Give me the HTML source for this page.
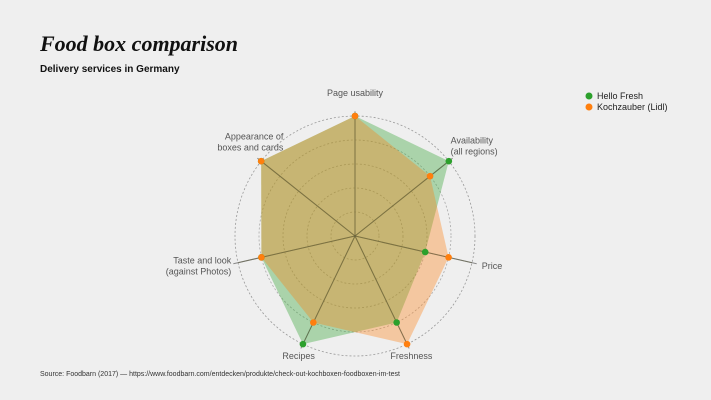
<!DOCTYPE html>
<html><head><meta charset="utf-8"><style>
body{margin:0;background:#efefef;font-family:"Liberation Sans",sans-serif;}
#wrap{position:relative;width:711px;height:400px;overflow:hidden;background:#efefef;}
.t{position:absolute;}
</style></head><body>
<div id="wrap">
<div class="t" style="left:40px;top:31px;font:italic bold 22px 'Liberation Serif',cursive;color:#111;">Food box comparison</div>
<div class="t" style="left:40px;top:64px;font:bold 10px 'Liberation Sans',sans-serif;color:#111;">Delivery services in Germany</div>
<div class="t" style="left:40px;top:371px;font:7px 'Liberation Sans',sans-serif;color:#333;">Source: Foodbarn (2017) — https://www.foodbarn.com/entdecken/produkte/check-out-kochboxen-foodboxen-im-test</div>
<svg id="svg" width="711" height="400" style="position:absolute;left:0;top:0"></svg>
</div>
<script>
const categories=["Page usability","Availability|(all regions)","Price","Freshness","Recipes","Taste and look|(against Photos)","Appearance of|boxes and cards"];
const helloFresh=[5,5,3,4,5,4,5];
const kochzauber=[5,4,4,5,4,4,5];
const seriesNames=["Hello Fresh","Kochzauber (Lidl)"];
const maxVal=5;
const ringTicks=[1,2,3,4,5];
const cx=355,cy=236,R=120,NS="http://www.w3.org/2000/svg";
const svg=document.getElementById('svg');
function ang(i){return i*2*Math.PI/categories.length;}
function pt(i,v){const r=v/maxVal*R,a=ang(i);return [cx+r*Math.sin(a),cy-r*Math.cos(a)];}
function mk(tag,attrs){const e=document.createElementNS(NS,tag);for(const k in attrs)e.setAttribute(k,attrs[k]);svg.appendChild(e);return e;}
ringTicks.forEach(t=>{const c=mk('circle',{cx:cx,cy:cy,r:t/maxVal*R,fill:'none',stroke:t===maxVal?'#999':'#aaa','stroke-dasharray':'2,2','stroke-width':0.8});

});
categories.forEach((c,i)=>{const p=pt(i,maxVal*1.04);const l=mk('line',{x1:cx,y1:cy,x2:p[0],y2:p[1],stroke:'#888','stroke-width':1});

});
const series=[[helloFresh,'#2ca02c','rgba(44,160,44,0.35)'],[kochzauber,'#ff7f0e','rgba(255,127,14,0.35)']];
series.forEach(([vals,col,fill],s)=>{const pts=vals.map((v,i)=>pt(i,v).join(',')).join(' ');
const p=mk('polygon',{points:pts,fill:fill,stroke:'none'});

});
categories.forEach((c,i)=>{const p=pt(i,maxVal);const l=mk('line',{x1:cx,y1:cy,x2:p[0],y2:p[1],stroke:'rgba(90,90,60,0.5)','stroke-width':1});

});
series.forEach(([vals,col],s)=>{vals.forEach((v,i)=>{const q=pt(i,v);const c=mk('circle',{cx:q[0],cy:q[1],r:3.3,fill:col});

});});
categories.forEach((c,i)=>{const a=ang(i),s=Math.sin(a),co=Math.cos(a);const r=R+10;
let x=cx+r*s,y=cy-r*co;const lines=c.split('|');
const anchor=Math.abs(s)<0.5?'middle':(s>0?'start':'end');
if(Math.abs(s)<0.5){ if(co>0) y-=10; else y+=6; }
else y+=4-(lines.length-1)*5.5;
if(i===6){x+=30;y-=14;}
if(i===1){x-=6;y-=10;}
if(i===5){x+=3;}
const t=mk('text',{x:x,y:y,'text-anchor':anchor,'font-size':9,fill:'#555','font-family':'Liberation Sans, sans-serif'});


lines.forEach((ln,k)=>{const ts=document.createElementNS(NS,'tspan');ts.setAttribute('x',x);ts.setAttribute('dy',k?11:0);ts.textContent=ln;t.appendChild(ts);});});
seriesNames.forEach((n,k)=>{const col=series[k][1];const c=mk('circle',{cx:589,cy:96+k*11,r:3.5,fill:col});


const t=mk('text',{x:597,y:99+k*11,'font-size':9,fill:'#222','font-family':'Liberation Sans, sans-serif'});


t.textContent=n;});
</script>
</body></html>
